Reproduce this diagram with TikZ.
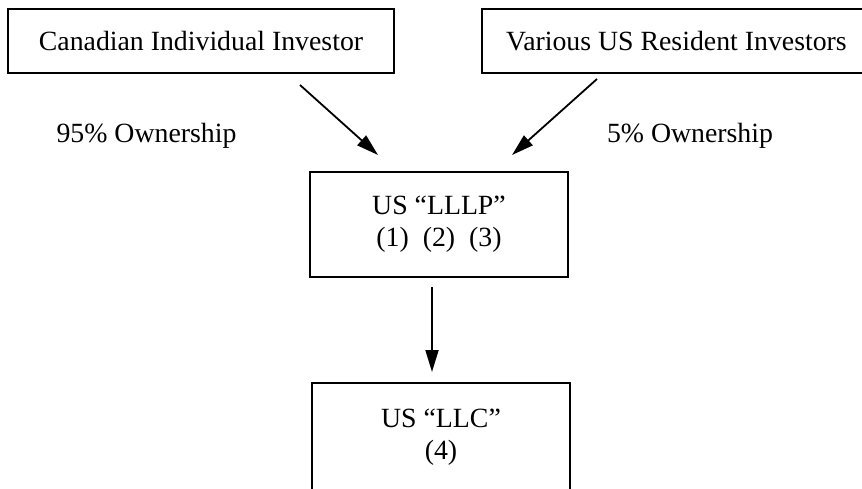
\documentclass[tikz,border=0pt]{standalone}
\usepackage{fontspec}
\setmainfont{Liberation Serif}
\usetikzlibrary{arrows.meta}
\begin{document}
\begin{tikzpicture}[x=1pt,y=-1pt,
  box/.style={draw, line width=1.2pt, inner sep=0pt, align=center, font=\fontsize{27.8}{32}\selectfont},
  lbl/.style={inner sep=0pt, anchor=base, font=\fontsize{27.8}{32}\selectfont},
  link/.style={line width=1.8pt, -{Triangle[length=22pt,width=13pt]}}]
\useasboundingbox (0,0) rectangle (862,489);
\clip (0,0) rectangle (862,489);
\node[box, minimum width=386pt, minimum height=64pt] (cdn) at (201,41) {Canadian Individual Investor};
\node[box, minimum width=389pt, minimum height=64pt] (us) at (676.5,41) {Various US Resident Investors};
\node[box, minimum width=258pt, minimum height=105pt] (lllp) at (439,224.5) {US “LLLP”\\(1)\hspace{0.5em}(2)\hspace{0.5em}(3)};
\node[box, minimum width=258pt, minimum height=108pt] (llc) at (441,437) {US “LLC”\\(4)};
\node[lbl] (p95) at (146.5,143) {95\% Ownership};
\node[lbl] (p5) at (690,143) {5\% Ownership};
\coordinate (s1) at (300,85);
\coordinate (e1) at (378,155);
\coordinate (s2) at (597,79);
\coordinate (e2) at (512,155);
\coordinate (s3) at (432,287);
\coordinate (e3) at (432,372);
\draw[link] (s1) -- (e1);
\draw[link] (s2) -- (e2);
\draw[link] (s3) -- (e3);
\end{tikzpicture}
\end{document}
